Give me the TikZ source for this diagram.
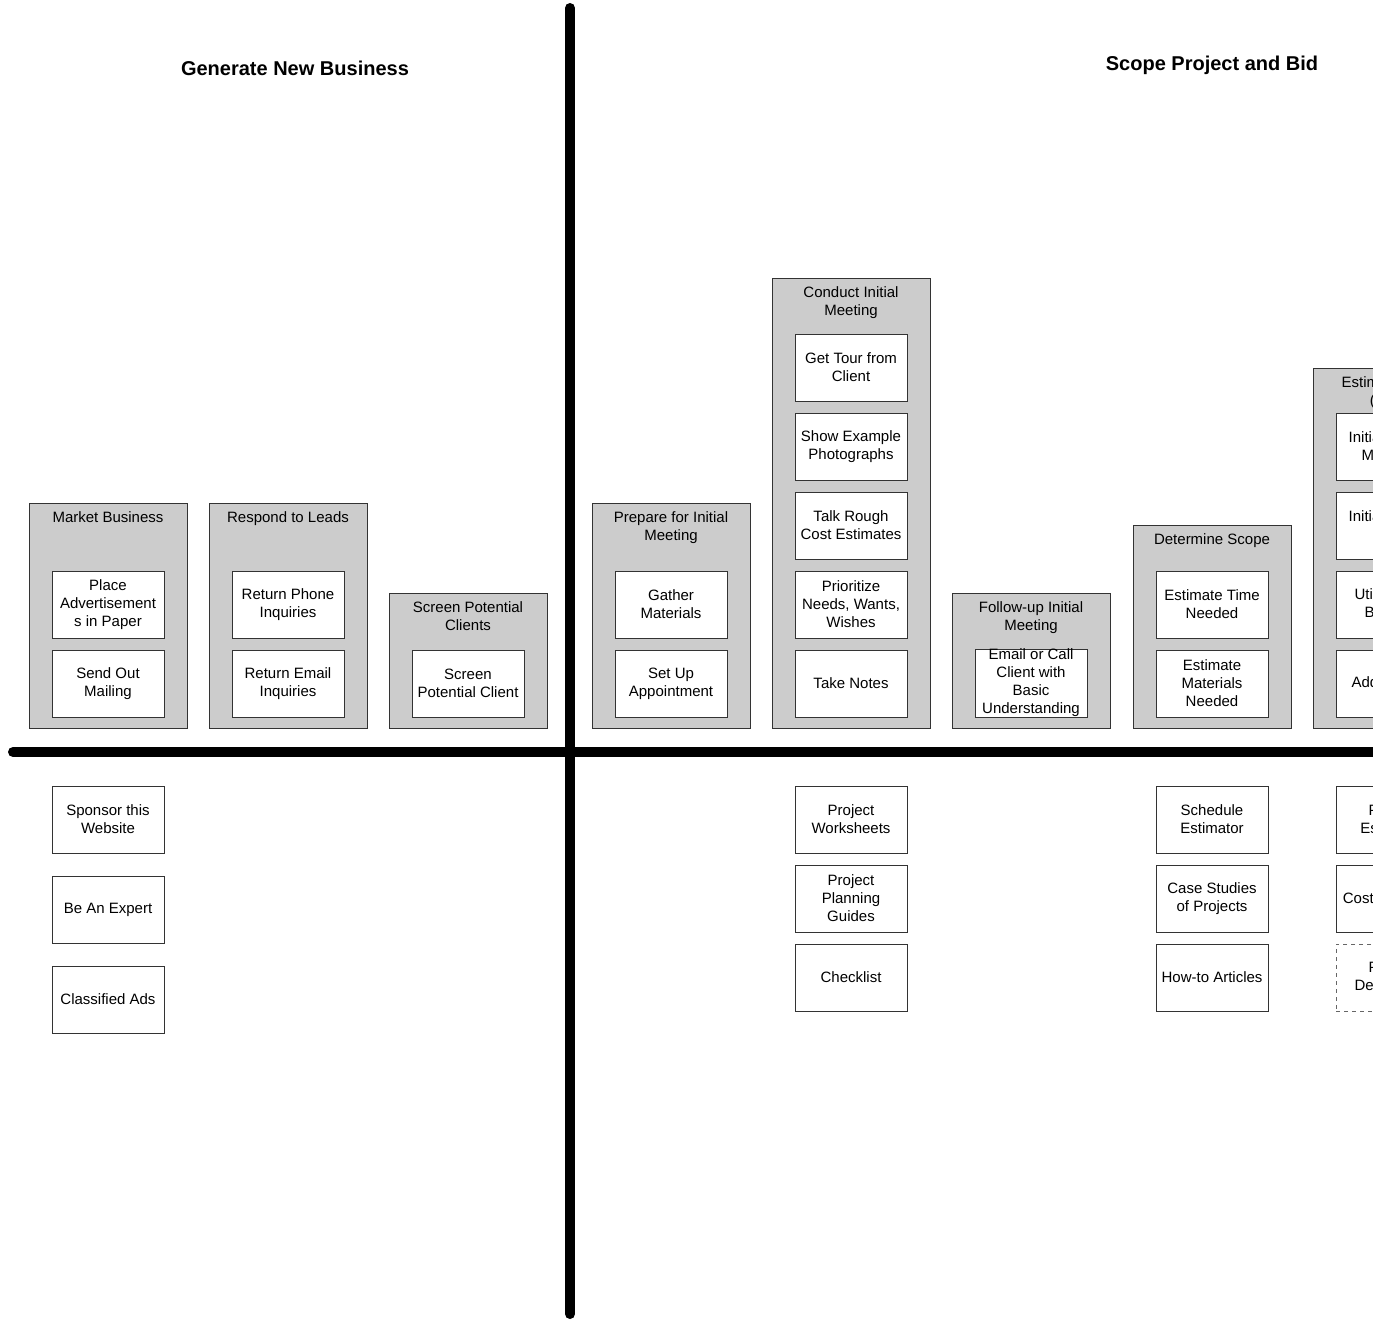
\documentclass[tikz,border=0pt]{standalone}
\usepackage{fontspec}
\setmainfont{Liberation Sans}
\usetikzlibrary{positioning}

\begin{document}
\begin{tikzpicture}[x=0.75pt, y=-0.75pt, node distance=9pt,
    every node/.style={font=\fontsize{11.25}{13.5}\selectfont},
    phase/.style={draw=black!80, fill=black!20, line width=0.75pt, minimum width=118.5pt,
      inner sep=0pt, outer sep=0pt, anchor=south west},
    phasename/.style={align=center, inner sep=0pt},
    task/.style={draw=black!80, fill=white, line width=0.75pt, minimum width=84pt,
      minimum height=50.25pt, inner sep=0pt, outer sep=0pt, align=center},
    extra/.style={task, dashed, draw=black!60},
    heading/.style={font=\fontsize{15}{18}\selectfont\bfseries, text depth=0pt},
    divider/.style={line width=7.5pt, line cap=round}]
  \useasboundingbox[fill=white] (0,0) rectangle (1373,1322);
  \clip (0,0) rectangle (1373,1322);

  \node[heading] (newbiz) at (295,68) {Generate New Business};
  \node[heading] (scopebid) at (1212,63) {Scope Project and Bid};

  % the two thick dividers
  \coordinate (vtop) at (570,8);
  \coordinate (vbot) at (570,1314);
  \coordinate (hleft) at (13,752);
  \coordinate (hright) at (1500,752);
  \draw[divider] (vtop) -- (vbot);
  \draw[divider] (hleft) -- (hright);

  % Generate New Business
  \node[phase, minimum height=168.75pt] (market) at (29,728) {};
  \node[phasename, below=6.25pt of market.north] (marketT) {Market Business};
  \node[task, above=8.25pt of market.south] (mailing) {Send Out\\Mailing};
  \node[task, above=of mailing] (advert) {Place\\Advertisement\\s in Paper};

  \node[phase, minimum height=168.75pt] (leads) at (209,728) {};
  \node[phasename, below=6.25pt of leads.north] (leadsT) {Respond to Leads};
  \node[task, above=8.25pt of leads.south] (email) {Return Email\\Inquiries};
  \node[task, above=of email] (phone) {Return Phone\\Inquiries};

  \node[phase, minimum height=101.25pt] (screen) at (389,728) {};
  \node[phasename, below=6.25pt of screen.north] (screenT) {Screen Potential\\Clients};
  \node[task, above=8.25pt of screen.south] (screenone) {Screen\\Potential Client};

  \node[task] (sponsor) at (108,819.5) {Sponsor this\\Website};
  \node[task, below=17.25pt of sponsor] (expert) {Be An Expert};
  \node[task, below=17.25pt of expert] (classified) {Classified Ads};

  % Scope Project and Bid
  \node[phase, minimum height=168.75pt] (prepare) at (592,728) {};
  \node[phasename, below=6.25pt of prepare.north] (prepareT) {Prepare for Initial\\Meeting};
  \node[task, above=8.25pt of prepare.south] (appoint) {Set Up\\Appointment};
  \node[task, above=of appoint] (gather) {Gather\\Materials};

  \node[phase, minimum height=337.5pt] (conduct) at (772,728) {};
  \node[phasename, below=6.25pt of conduct.north] (conductT) {Conduct Initial\\Meeting};
  \node[task, above=8.25pt of conduct.south] (notes) {Take Notes};
  \node[task, above=of notes] (prioritize) {Prioritize\\Needs, Wants,\\Wishes};
  \node[task, above=of prioritize] (rough) {Talk Rough\\Cost Estimates};
  \node[task, above=of rough] (photos) {Show Example\\Photographs};
  \node[task, above=of photos] (tour) {Get Tour from\\Client};

  \node[phase, minimum height=101.25pt] (follow) at (952,728) {};
  \node[phasename, below=6.25pt of follow.north] (followT) {Follow-up Initial\\Meeting};
  \node[task, above=8.25pt of follow.south] (callback) {Email or Call\\Client with\\Basic\\Understanding};

  \node[phase, minimum height=152.25pt] (scope) at (1133,728) {};
  \node[phasename, below=6.25pt of scope.north] (scopeT) {Determine Scope};
  \node[task, above=8.25pt of scope.south] (estmat) {Estimate\\Materials\\Needed};
  \node[task, above=of estmat] (esttime) {Estimate Time\\Needed};

  \node[phase, minimum height=270pt] (estimate) at (1313,728) {};
  \node[phasename, below=6.25pt of estimate.north] (estimateT) {Estimate Costs\\(Price)};
  \node[task, above=8.25pt of estimate.south] (markup) {Add Markup};
  \node[task, above=of markup] (budgets) {Utilize Past\\Budgets};
  \node[task, above=of budgets] (inittime) {Initial Cost of\\Time};
  \node[task, above=of inittime] (initmat) {Initial Cost of\\Materials};

  \node[task] (worksheets) at (851,819.5) {Project\\Worksheets};
  \node[task, below=of worksheets] (guides) {Project\\Planning\\Guides};
  \node[task, below=of guides] (checklist) {Checklist};

  \node[task] (schedule) at (1212,819.5) {Schedule\\Estimator};
  \node[task, below=of schedule] (cases) {Case Studies\\of Projects};
  \node[task, below=of cases] (howto) {How-to Articles};

  \node[task] (projest) at (1392,819.5) {Project\\Estimator};
  \node[task, below=of projest] (costest) {Cost Estimator};
  \node[extra, below=of costest] (projdesc) {Project\\Description};
\end{tikzpicture}
\end{document}
